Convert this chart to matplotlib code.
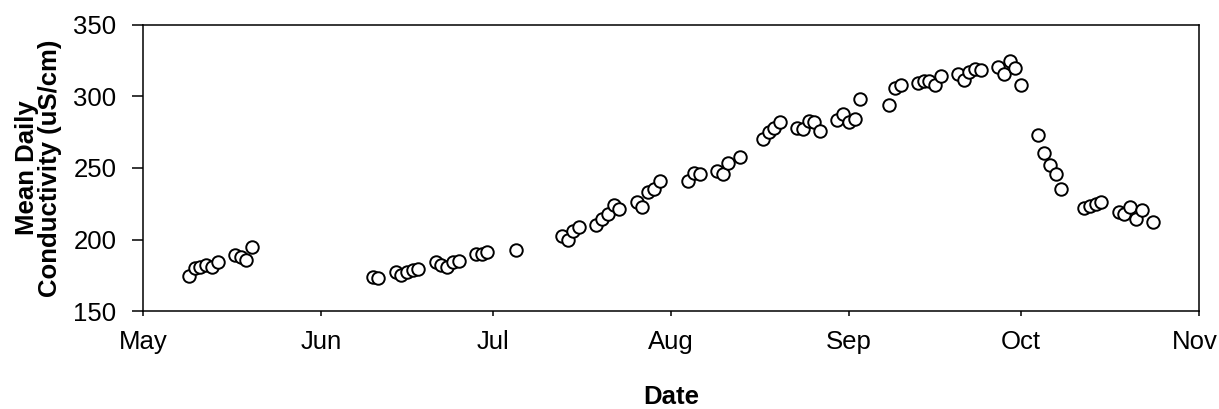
"""
Mean daily conductivity, May - October
"""

import matplotlib.pyplot as plt
import matplotlib.dates as mdates
import matplotlib.transforms as mtransforms
import pandas as pd

plt.rcParams['font.family'] = ['Liberation Sans', 'DejaVu Sans']

# Observation dates (month-day) and mean daily conductivity (uS/cm)
dates = [
    "05-09", "05-10", "05-11", "05-12", "05-13", "05-14", "05-17", "05-18", "05-19", "05-20",
    "06-10", "06-11", "06-14", "06-15", "06-16", "06-17", "06-18",
    "06-21", "06-22", "06-23", "06-24", "06-25", "06-28", "06-29", "06-30",
    "07-05", "07-13", "07-14", "07-15", "07-16", "07-19", "07-20", "07-21", "07-22", "07-23",
    "07-26", "07-27", "07-28", "07-29", "07-30",
    "08-04", "08-05", "08-06", "08-09", "08-10", "08-11", "08-13",
    "08-17", "08-18", "08-19", "08-20", "08-23", "08-24", "08-25", "08-26", "08-27",
    "08-30", "08-31", "09-01", "09-02", "09-03",
    "09-08", "09-09", "09-10", "09-13", "09-14", "09-15", "09-16", "09-17",
    "09-20", "09-21", "09-22", "09-23", "09-24", "09-27", "09-28", "09-29", "09-30", "10-01",
    "10-04", "10-05", "10-06", "10-07", "10-08",
    "10-12", "10-13", "10-14", "10-15", "10-18", "10-19", "10-20", "10-21", "10-22", "10-24",
]
conductivity = [
    174.5, 180, 181, 182, 181, 184, 189, 187.5, 186, 195,
    173.5, 173, 177, 175.5, 177, 178.5, 179.5,
    184, 182, 181, 184, 185, 190, 190, 191.5,
    193, 202.5, 200, 206, 209, 210, 214, 218, 224, 221,
    226, 223, 233, 235, 241,
    241, 246.5, 245.5, 248, 246, 253.5, 258,
    270.5, 275.5, 278, 282, 278, 277, 283, 282, 276,
    283.5, 287.5, 282, 284.5, 298.5,
    294, 306, 308, 309.5, 311, 311, 308, 314.5,
    315.5, 311.5, 317, 319.5, 318.5, 320.5, 315.5, 325, 320, 308,
    273, 260.5, 252, 245.5, 235.5,
    222, 223.5, 225, 226.5, 219.5, 218, 222.5, 214.5, 220.5, 212,
]

x = pd.to_datetime(["2004-" + d for d in dates])

fig = plt.figure(figsize=(12.19, 4.09), dpi=100)
ax = fig.add_axes([0.1173, 0.2396, 0.8663, 0.6993])

ax.plot(x, conductivity, 'o', markersize=9, markerfacecolor='white',
        markeredgecolor='black', markeredgewidth=1.4, linestyle='none')

ax.set_xlim(pd.Timestamp("2004-05-01"), pd.Timestamp("2004-11-01"))
ax.set_ylim(150, 350)
ax.set_yticks([150, 200, 250, 300, 350])
ax.xaxis.set_major_locator(mdates.MonthLocator())
ax.xaxis.set_major_formatter(mdates.DateFormatter('%b'))

for side in ['left', 'bottom', 'top', 'right']:
    ax.spines[side].set_linewidth(1.1)
ax.tick_params(axis='y', direction='out', length=8, width=1.1, labelsize=18.5, pad=11)
ax.tick_params(axis='x', direction='out', length=3.5, width=1.1, labelsize=18.5, pad=10)

# nudge the last month label a little left so it stays inside the figure
last = ax.xaxis.get_major_ticks()[-1].label1
last.set_transform(last.get_transform() +
                   mtransforms.ScaledTranslation(-0.04, 0, fig.dpi_scale_trans))

ax.set_xlabel('Date', fontsize=18.5, fontweight='bold', labelpad=22.5)
ax.set_ylabel('Mean Daily\nConductivity (uS/cm)', fontsize=18.5, fontweight='bold',
              labelpad=8, linespacing=0.95)

plt.savefig('out.png', dpi=100)
